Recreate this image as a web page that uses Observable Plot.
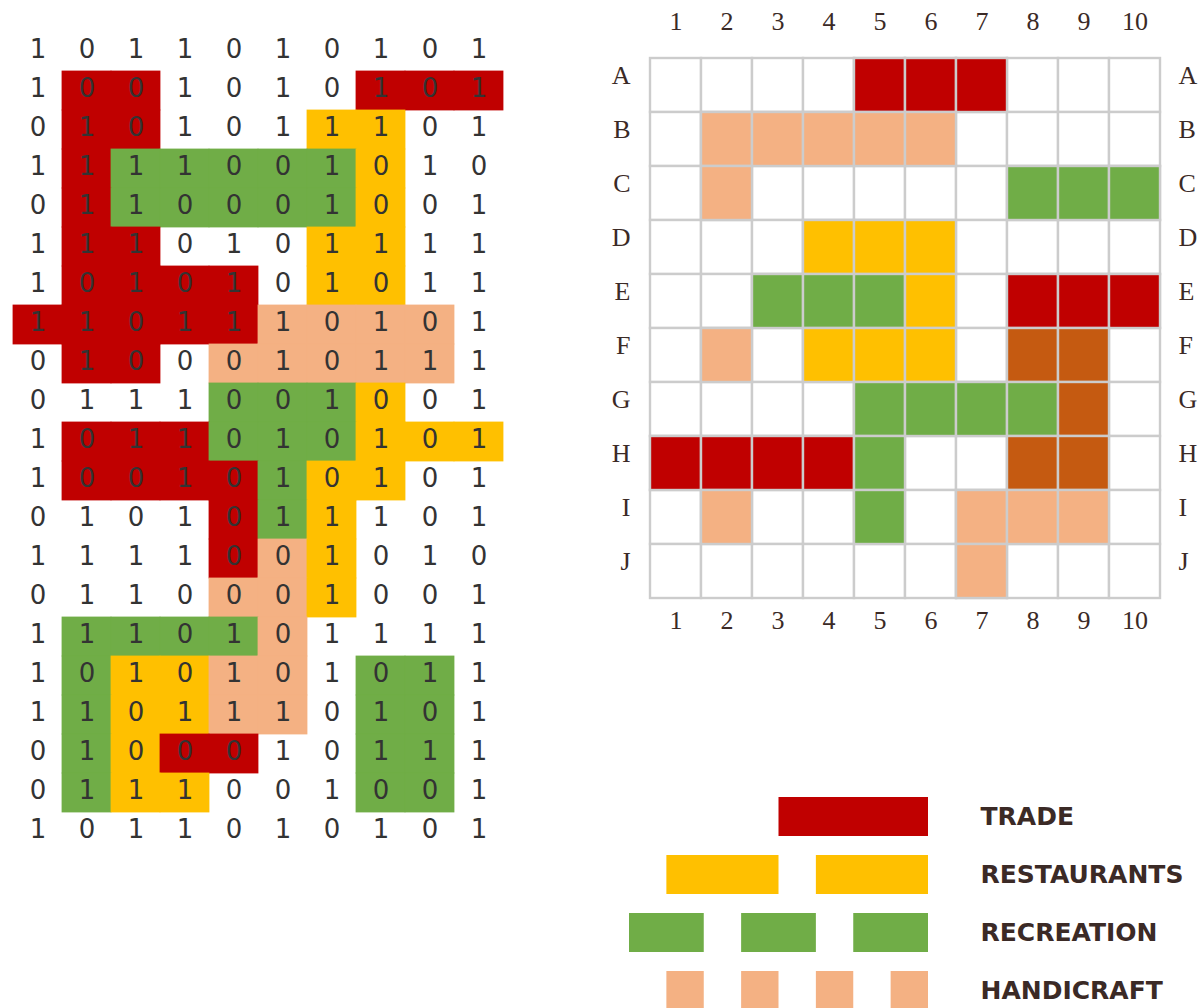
<!DOCTYPE html>
<html>
<head>
<meta charset="utf-8">
<script src="https://cdn.jsdelivr.net/npm/d3@7"></script>
<script src="https://cdn.jsdelivr.net/npm/@observablehq/plot@0.6"></script>
<style>
  html, body { margin: 0; padding: 0; background: #fff; overflow: hidden; }
  #page { position: relative; width: 1200px; height: 1008px; overflow: hidden; }
  .panel { position: absolute; }
  #left { left: 0; top: 0; }
  #right { left: 600px; top: 0; }
  #legend { left: 600px; top: 770px; }
</style>
</head>
<body>
<div id="page">
  <div class="panel" id="left"></div>
  <div class="panel" id="right"></div>
  <div class="panel" id="legend"></div>
</div>
<script>
// ---------- data ----------
const zoneCodes  = ["T", "R", "C", "H", "M"];
const zoneNames  = ["TRADE", "RESTAURANTS", "RECREATION", "HANDICRAFT", "MIXED"];
const zoneColors = ["#C00000", "#FFC000", "#70AD47", "#F4B183", "#C55A11"];

// left panel: binary digits, one string per row
const leftDigits = [
  "1011010101",
  "1001010101",
  "0101011101",
  "1111001010",
  "0110001001",
  "1110101111",
  "1010101011",
  "1101110101",
  "0100010111",
  "0111001001",
  "1011010101",
  "1001010101",
  "0101011101",
  "1111001010",
  "0110001001",
  "1110101111",
  "1010101011",
  "1101110101",
  "0100010111",
  "0111001001",
  "1011010101"
];
// left panel: zone of each cell (T trade, R restaurants, C recreation, H handicraft)
const leftZones = [
  "..........",
  ".TT....TTT",
  ".TT...RR..",
  ".TCCCCCR..",
  ".TCCCCCR..",
  ".TT...RR..",
  ".TTTT.RR..",
  "TTTTTHHHH.",
  ".TT.HHHHH.",
  "....CCCR..",
  ".TTTCCCRRR",
  ".TTTTCRR..",
  "....TCR...",
  "....THR...",
  "....HHR...",
  ".CCCCH....",
  ".CRRHH.CC.",
  ".CRRHH.CC.",
  ".CRTT..CC.",
  ".CRR...CC.",
  ".........."
];

// right panel
const rightRows = ["A", "B", "C", "D", "E", "F", "G", "H", "I", "J"];
const rightCols = [1, 2, 3, 4, 5, 6, 7, 8, 9, 10];
const rightZones = [
  "....TTT...",
  ".HHHHH....",
  ".H.....CCC",
  "...RRR....",
  "..CCCR.TTT",
  ".H.RRR.MM.",
  "....CCCCM.",
  "TTTTC..MM.",
  ".H..C.HHH.",
  "......H..."
];

// legend: blocks as [start, end] in units
const legendCategories = ["TRADE", "RESTAURANTS", "RECREATION", "HANDICRAFT"];
const tradeBlocks       = [[4, 8]];
const restaurantBlocks  = [[1, 4], [5, 8]];
const recreationBlocks  = [[0, 2], [3, 5], [6, 8]];
const handicraftBlocks  = [[1, 2], [3, 4], [5, 6], [7, 8]];

// ---------- derived tables ----------
const codeToName = new Map(zoneCodes.map((c, i) => [c, zoneNames[i]]));
const colorScale = {domain: zoneNames, range: zoneColors};

const leftRowIds = d3.range(leftDigits.length);
const leftColIds = d3.range(leftDigits[0].length);
const leftCells = leftDigits.flatMap((s, i) =>
  [...s].map((d, j) => ({row: i, col: j, digit: d, zone: codeToName.get(leftZones[i][j])})));

const rightCells = rightZones.flatMap((s, i) =>
  [...s].map((ch, j) => ({row: rightRows[i], col: rightCols[j], zone: codeToName.get(ch)})));

const legendBlocks = [
  ...tradeBlocks.map(([a, b]) => ({cat: "TRADE", a, b})),
  ...restaurantBlocks.map(([a, b]) => ({cat: "RESTAURANTS", a, b})),
  ...recreationBlocks.map(([a, b]) => ({cat: "RECREATION", a, b})),
  ...handicraftBlocks.map(([a, b]) => ({cat: "HANDICRAFT", a, b}))
];

// ---------- left panel ----------
const left = Plot.plot({
  width: 520,
  height: 870,
  marginLeft: 11,
  marginRight: 16,
  marginTop: 27,
  marginBottom: 15,
  x: {type: "band", domain: leftColIds, padding: 0, axis: null},
  y: {type: "band", domain: leftRowIds, padding: 0, axis: null},
  color: colorScale,
  style: {background: "transparent"},
  marks: [
    Plot.cell(leftCells.filter(d => d.zone), {x: "col", y: "row", fill: "zone", stroke: "zone", strokeWidth: 0.8}),
    Plot.text(leftCells, {
      x: "col", y: "row", text: "digit", dy: -2,
      fontSize: 26, fontFamily: "DejaVu Sans", fill: "#333333"
    })
  ]
});
document.getElementById("left").appendChild(left);

// ---------- right panel ----------
const labelFont = {fontSize: 26, fontFamily: "Liberation Serif", fill: "#3b2a26"};
const right = Plot.plot({
  width: 600,
  height: 650,
  marginLeft: 47,
  marginRight: 38,
  marginTop: 55,
  marginBottom: 49,
  x: {type: "band", domain: rightCols, padding: 0},
  y: {type: "band", domain: rightRows, padding: 0},
  color: colorScale,
  style: {background: "transparent", fontFamily: "Liberation Serif", fontSize: "26px", color: "#3b2a26"},
  marks: [
    Plot.cell(rightCells, {x: "col", y: "row", fill: "white", stroke: "#cccccc", strokeWidth: 2.4}),
    Plot.cell(rightCells.filter(d => d.zone), {x: "col", y: "row", fill: "zone", stroke: "#cccccc", strokeWidth: 2.4}),
    Plot.axisX({anchor: "top", tickSize: 0, tickPadding: 26, label: null, ...labelFont}),
    Plot.axisX({anchor: "bottom", tickSize: 0, tickPadding: 9, label: null, ...labelFont}),
    Plot.axisY({anchor: "left", tickSize: 0, tickPadding: 17, dy: -10, label: null, ...labelFont}),
    Plot.axisY({anchor: "right", tickSize: 0, tickPadding: 16, dy: -10, label: null, ...labelFont})
  ]
});
document.getElementById("right").appendChild(right);

// ---------- legend ----------
const legend = Plot.plot({
  width: 600,
  height: 250,
  marginLeft: 29,
  marginRight: 272,
  marginTop: 17.5,
  marginBottom: 0.5,
  x: {domain: [0, 8], axis: null},
  y: {type: "band", domain: legendCategories, paddingInner: 0.328, paddingOuter: 0.164},
  color: colorScale,
  style: {background: "transparent", color: "#3b2a26"},
  marks: [
    Plot.barX(legendBlocks, {x1: "a", x2: "b", y: "cat", fill: "cat"}),
    Plot.axisY({
      anchor: "right", tickSize: 0, tickPadding: 52, label: null, textAnchor: "start",
      fontSize: 25, fontFamily: "DejaVu Sans", fontWeight: "bold", fill: "#3b2a26"
    })
  ]
});
document.getElementById("legend").appendChild(legend);
</script>
</body>
</html>
